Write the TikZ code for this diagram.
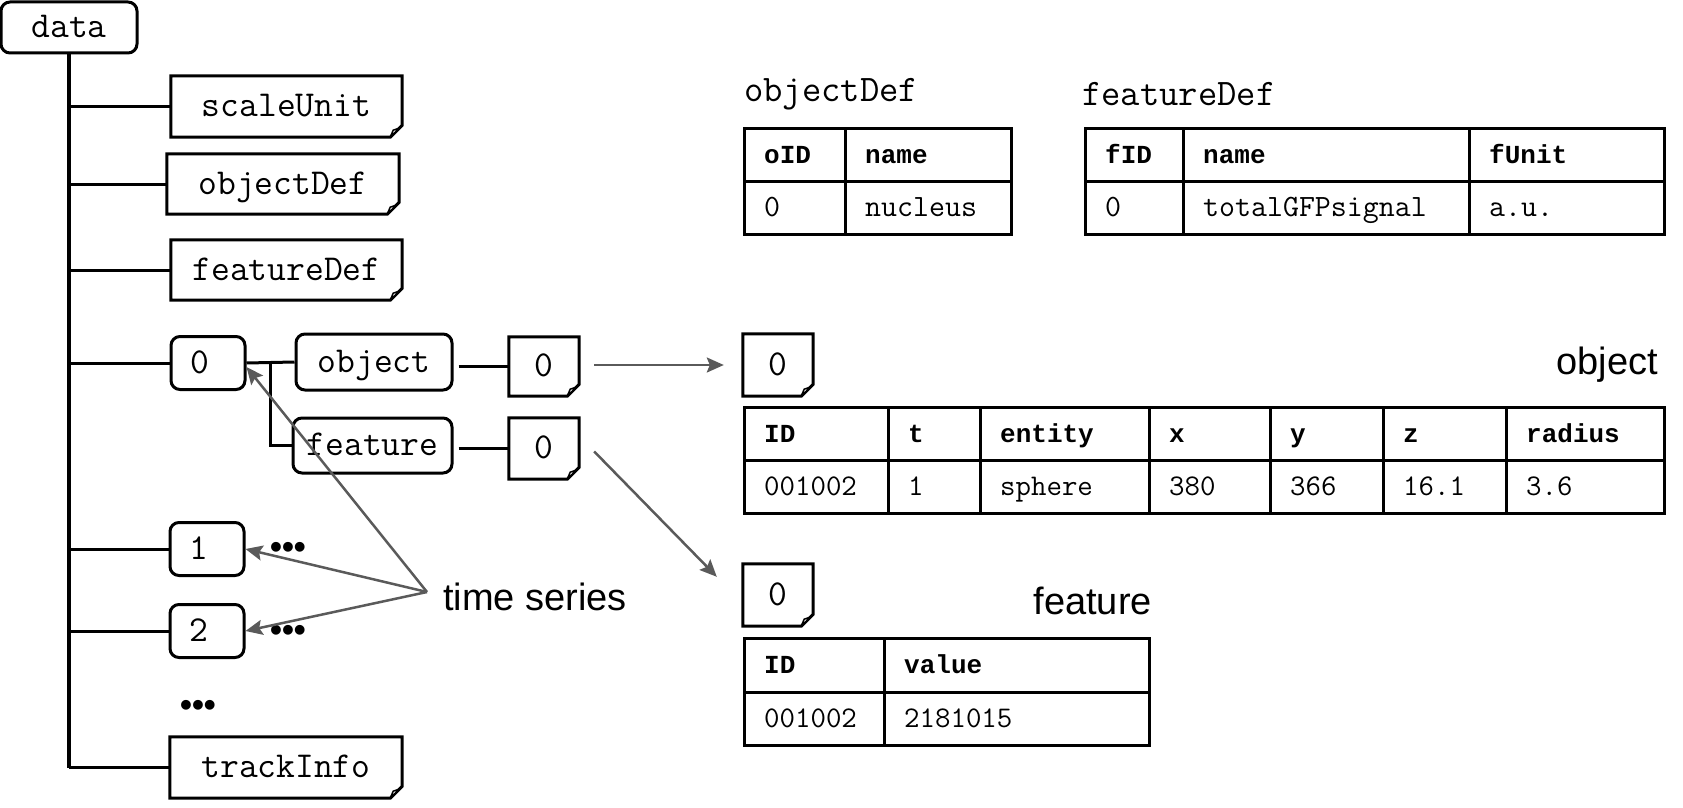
\documentclass[tikz,border=0pt]{standalone}
\usepackage{fontspec}
\setmainfont{Liberation Sans}
\newfontfamily\monofam{Liberation Mono}
\usetikzlibrary{arrows.meta,calc}
\definecolor{arrowgray}{RGB}{90,90,90}
\newcommand{\fnote}[1]{%
  \draw[line width=3pt, line join=miter] (#1.north west) -- (#1.north east) -- ([yshift=12pt]#1.south east) -- ([xshift=-12pt]#1.south east) -- (#1.south west) -- cycle;
  \draw[line width=1.5pt, fill=white, line join=round] ([xshift=-12pt]#1.south east) -- ([xshift=-9pt,yshift=7pt]#1.south east) -- ([xshift=-3pt,yshift=9pt]#1.south east) -- cycle;}
\newcommand{\tcell}[6]{%
  \node[cellbox, minimum width=#4, minimum height=#5, anchor=north west] (#1) at (#2,#3) {};
  \node[celltext, anchor=west] (#1-t) at ([xshift=21pt]#1.west) {#6};}
\newcommand{\dcell}[6]{%
  \node[cellbox, minimum width=#4, minimum height=#5, anchor=north west] (#1) at (#2,#3) {};
  \node[celltext, font=\fontsize{31}{34}\selectfont\ttfamily, anchor=west] (#1-t) at ([xshift=21pt]#1.west) {#6};}
\newcommand{\hd}[1]{{\fontsize{26}{30}\monofam\bfseries #1}}
\begin{document}
\begin{tikzpicture}[x=1pt,y=-1pt,
  treefont/.style={font=\fontsize{36.5}{40}\selectfont\ttfamily, text height=20pt, text depth=0pt},
  rbox/.style={draw, line width=3pt, rounded corners=9pt, inner sep=0pt, treefont},
  numbox/.style={rbox, minimum width=74pt, minimum height=53pt, text width=36pt, align=left, inner xsep=19pt},
  treenote/.style={inner sep=0pt, treefont},
  branch/.style={line width=3pt},
  trunk/.style={line width=4.5pt},
  garrow/.style={draw=arrowgray, line width=2.5pt, -{Stealth[length=17pt, width=15pt, inset=3pt]}},
  dots/.style={inner sep=0pt, font=\fontsize{34}{36}\selectfont\bfseries},
  bigsans/.style={inner sep=0pt, font=\fontsize{38}{42}\selectfont},
  cellbox/.style={draw, line width=2.5pt, inner sep=0pt},
  celltext/.style={inner sep=0pt, font=\fontsize{30}{34}\selectfont\ttfamily, text height=17pt, text depth=0pt},
  deflabel/.style={inner sep=0pt, font=\fontsize{37.5}{40}\selectfont\ttfamily, anchor=west}
]
\useasboundingbox (0,0) rectangle (1683,808);

% ---- tree ----
\node[rbox, minimum width=136pt, minimum height=51pt] (data) at (69,27.5) {data};
\node[treenote, minimum width=231pt, minimum height=61pt] (scaleUnit) at (286.5,106.5) {scaleUnit};
\fnote{scaleUnit}
\node[treenote, minimum width=232pt, minimum height=60pt] (objectDef) at (283,184) {objectDef};
\fnote{objectDef}
\node[treenote, minimum width=231pt, minimum height=60pt] (featureDef) at (286.5,270) {featureDef};
\fnote{featureDef}
\node[numbox] (n0) at (208,363) {0};
\node[numbox] (n1) at (207,549) {1};
\node[numbox] (n2) at (207,631) {2};
\node[treenote, minimum width=232pt, minimum height=61pt] (trackInfo) at (286,767.5) {trackInfo};
\fnote{trackInfo}

\draw[trunk] (data.south) -- (data.south |- trackInfo.west);
\foreach \n in {scaleUnit,objectDef,featureDef,n0,n1,n2,trackInfo}
  \draw[branch] (\n.west) -- (\n.west -| data.south);

\node[rbox, minimum width=156pt, minimum height=56pt] (obj) at (374,362) {object};
\node[rbox, minimum width=159pt, minimum height=55pt] (feat) at (372.5,445.5) {feature};
\node[treenote, minimum width=70pt, minimum height=59pt] (on) at (544,366.5) {0};
\fnote{on}
\node[treenote, minimum width=70pt, minimum height=61pt] (fn) at (544,448.5) {0};
\fnote{fn}

\draw[branch] (n0.east) -- (obj.west);
\draw[branch] ($(n0.east)!0.5!(obj.west)$) |- (feat.west);
\draw[branch, shorten <=5pt] (obj.east |- on.west) -- (on.west);
\draw[branch, shorten <=5pt] (feat.east |- fn.west) -- (fn.west);

\node[dots] (d1) at (288,550) {•••};
\node[dots] (d2) at (288,633) {•••};
\node[dots] (d3) at (198,708) {•••};

% ---- time series ----
\node[bigsans, anchor=west] (ts) at (443,597) {time series};
\coordinate (tsc) at (427,592);
\draw[garrow] (tsc) -- ([yshift=-4pt]n0.east);
\draw[garrow] (tsc) -- (n1.east);
\draw[garrow] (tsc) -- (n2.east);

% ---- right side ----
\node[treenote, minimum width=70pt, minimum height=62pt] (O0) at (778,365) {0};
\fnote{O0}
\node[treenote, minimum width=70pt, minimum height=62pt] (F0) at (778,595) {0};
\fnote{F0}
\draw[garrow, shorten <=15pt, shorten >=19pt] (on.east |- O0.west) -- (O0.west);
\draw[garrow] ([xshift=15pt,yshift=-3pt]fn.east) -- ([xshift=-26pt,yshift=-13pt]F0.north west);

\node[bigsans, anchor=east] (objlab) at (1658,365) {object};
\node[bigsans, anchor=east] (featlab) at (1152,601) {feature};

% object table
\tcell{oh1}{743}{406}{144}{53}{\hd{ID}}
\tcell{oh2}{887}{406}{92}{53}{\hd{t}}
\tcell{oh3}{979}{406}{169}{53}{\hd{entity}}
\tcell{oh4}{1148}{406}{121}{53}{\hd{x}}
\tcell{oh5}{1269}{406}{113}{53}{\hd{y}}
\tcell{oh6}{1382}{406}{123}{53}{\hd{z}}
\tcell{oh7}{1505}{406}{158}{53}{\hd{radius}}
\tcell{ob1}{743}{459}{144}{53}{001002}
\tcell{ob2}{887}{459}{92}{53}{1}
\tcell{ob3}{979}{459}{169}{53}{sphere}
\tcell{ob4}{1148}{459}{121}{53}{380}
\tcell{ob5}{1269}{459}{113}{53}{366}
\tcell{ob6}{1382}{459}{123}{53}{16.1}
\tcell{ob7}{1505}{459}{158}{53}{3.6}

% feature table
\tcell{fh1}{743}{637}{140}{54}{\hd{ID}}
\tcell{fh2}{883}{637}{265}{54}{\hd{value}}
\tcell{fb1}{743}{691}{140}{53}{001002}
\tcell{fb2}{883}{691}{265}{53}{2181015}

% objectDef table
\node[deflabel] (odl) at (744,94) {objectDef};
\dcell{dh1}{743}{127}{101}{53}{\hd{oID}}
\dcell{dh2}{844}{127}{166}{53}{\hd{name}}
\dcell{db1}{743}{180}{101}{53}{0}
\dcell{db2}{844}{180}{166}{53}{nucleus}

% featureDef table
\node[deflabel] (fdl) at (1082,94) {featureDef};
\dcell{eh1}{1084}{127}{98}{53}{\hd{fID}}
\dcell{eh2}{1182}{127}{286}{53}{\hd{name}}
\dcell{eh3}{1468}{127}{195}{53}{\hd{fUnit}}
\dcell{eb1}{1084}{180}{98}{53}{0}
\dcell{eb2}{1182}{180}{286}{53}{totalGFPsignal}
\dcell{eb3}{1468}{180}{195}{53}{a.u.}
\end{tikzpicture}
\end{document}
